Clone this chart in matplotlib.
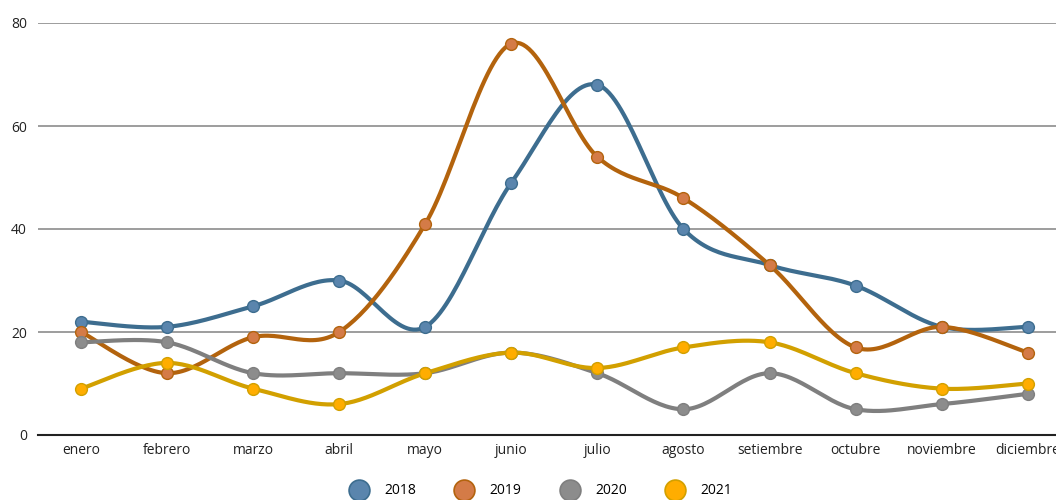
import numpy as np
import matplotlib.pyplot as plt
from matplotlib.lines import Line2D

meses = ['enero', 'febrero', 'marzo', 'abril', 'mayo', 'junio', 'julio',
         'agosto', 'setiembre', 'octubre', 'noviembre', 'diciembre']

v2018 = [22, 21, 25, 30, 21, 49, 68, 40, 33, 29, 21, 21]
v2019 = [20, 12, 19, 20, 41, 76, 54, 46, 33, 17, 21, 16]
v2020 = [18, 18, 12, 12, 12, 16, 12, 5, 12, 5, 6, 8]
v2021 = [9, 14, 9, 6, 12, 16, 13, 17, 18, 12, 9, 10]

series = [
    ('2018', v2018, '#3d6d8f', '#5a85ad'),
    ('2019', v2019, '#b3630d', '#d47b47'),
    ('2020', v2020, '#7f7f7f', '#8c8c8c'),
    ('2021', v2021, '#d2a000', '#ffad00'),
]


def suavizar(x, y, n=30):
    # curva tipo Excel (bezier cubica con tangentes de Catmull-Rom)
    x = np.asarray(x, float)
    y = np.asarray(y, float)
    px, py = [], []
    for i in range(len(x) - 1):
        x0, y0 = (x[i - 1], y[i - 1]) if i > 0 else (x[i], y[i])
        x3, y3 = (x[i + 2], y[i + 2]) if i + 2 < len(x) else (x[i + 1], y[i + 1])
        x1, y1 = x[i], y[i]
        x2, y2 = x[i + 1], y[i + 1]
        c1x, c1y = x1 + (x2 - x0) / 6, y1 + (y2 - y0) / 6
        c2x, c2y = x2 - (x3 - x1) / 6, y2 - (y3 - y1) / 6
        t = np.linspace(0, 1, n)
        bx = (1-t)**3*x1 + 3*(1-t)**2*t*c1x + 3*(1-t)*t**2*c2x + t**3*x2
        by = (1-t)**3*y1 + 3*(1-t)**2*t*c1y + 3*(1-t)*t**2*c2y + t**3*y2
        px.extend(bx)
        py.extend(by)
    return np.array(px), np.array(py)


plt.rcParams['font.family'] = ['Open Sans', 'DejaVu Sans']

fig = plt.figure(figsize=(10.56, 5), dpi=100)
ax = fig.add_axes([0.036, 0.13, 0.978, 0.824])

x = np.arange(len(meses))
for nombre, vals, c_line, c_mark in series:
    sx, sy = suavizar(x, vals)
    ax.plot(sx, sy, color=c_line, lw=3, solid_capstyle='round', zorder=3)
    ax.plot(x, vals, 'o', ms=8.5, color=c_mark, mec=c_line, mew=1, zorder=4)

ax.set_xlim(-0.5, len(meses) - 0.5)
ax.set_ylim(0, 80)
ax.set_yticks([0, 20, 40, 60, 80])
ax.set_xticks(x)
ax.set_xticklabels(meses)
ax.tick_params(axis='both', length=0, labelsize=10, colors='#222222', pad=6)
ax.tick_params(axis='y', pad=8)
ax.grid(axis='y', color='#8c8c8c', lw=1.2)
ax.set_axisbelow(True)
for s in ['top', 'right', 'left']:
    ax.spines[s].set_visible(False)
ax.spines['bottom'].set_color('#222222')
ax.spines['bottom'].set_linewidth(1.5)
ax.spines['bottom'].set_zorder(2)

handles = [Line2D([], [], ls='none', marker='o', ms=15, color=c_mark,
                  mec=c_line, mew=1.2, label=n) for n, _, c_line, c_mark in series]
fig.legend(handles=handles, loc='center', bbox_to_anchor=(0.51, 0.018), ncol=4,
           frameon=False, fontsize=10, columnspacing=2.5, handletextpad=0.8)

fig.savefig('out.png', dpi=100)
